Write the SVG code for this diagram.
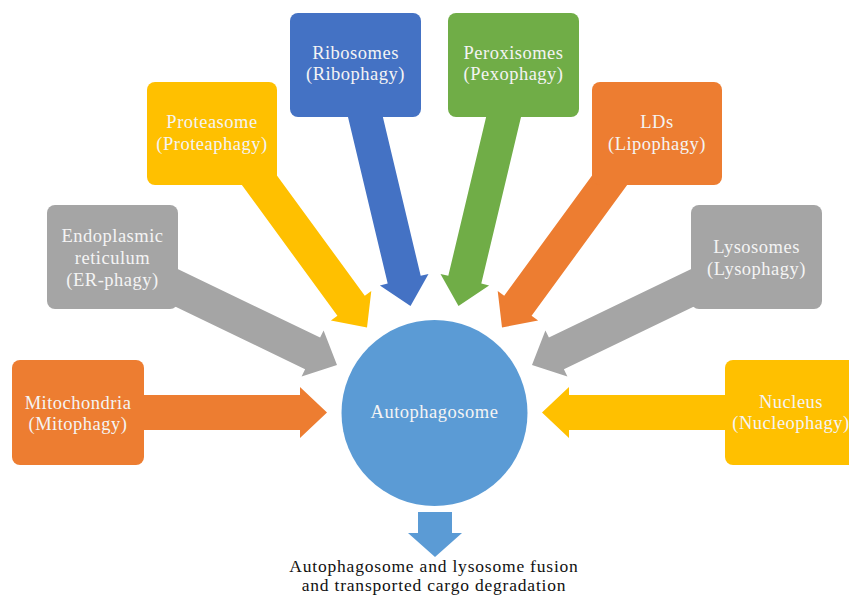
<svg xmlns="http://www.w3.org/2000/svg" width="849" height="598" viewBox="0 0 849 598">
<style>
.t{font-family:"Liberation Serif","Times New Roman",serif;font-size:18.5px;letter-spacing:0.5px;fill:#F4F4F4;text-anchor:middle}
.b{font-family:"Liberation Serif","Times New Roman",serif;font-size:17.5px;letter-spacing:0.8px;fill:#111;text-anchor:middle}
.or{fill:#ED7D31}.gr{fill:#A5A5A5}.ye{fill:#FFC000}.bl{fill:#4472C4}.gn{fill:#70AD47}.ci{fill:#5B9BD5}
</style>
<rect width="849" height="598" fill="#fff"/>
<g id="connectors">
<polygon class="or" points="130,395 300,395 300,387 327,412.5 300,438 300,430 130,430"/>
<polygon class="ye" points="739,395 569,395 569,387 542,412.5 569,438 569,430 739,430"/>
<polygon class="gr" points="105,272.8 305.1,369.2 301.6,376.4 337,365 323.6,330.4 320.1,337.6 120,241.2"/>
<polygon class="gr" points="764,272.8 563.9,369.2 567.4,376.4 532,365 545.4,330.4 548.9,337.6 749,241.2"/>
<polygon class="ye" points="230.9,170 337.4,315.7 330.9,320.5 367,327.5 371.3,291 364.8,295.7 258.3,150"/>
<polygon class="or" points="638.1,170 531.6,315.7 538.1,320.5 502,327.5 497.7,291 504.2,295.7 610.7,150"/>
<polygon class="bl" points="342.5,93.9 387.7,283.6 379.9,285.5 410.5,306 428.5,273.9 420.7,275.8 375.5,86.1"/>
<polygon class="gn" points="526.5,93.9 481.3,283.6 489.1,285.5 458.5,306 440.5,273.9 448.3,275.8 493.5,86.1"/>
<polygon class="ci" points="418,512 452,512 452,533 462,533 435,557 408,533 418,533"/>
</g>
<g id="mitochondria">
<rect class="or" x="12" y="360" width="132" height="105" rx="8"/>
<text class="t" x="78" y="409">Mitochondria</text>
<text class="t" x="78" y="430">(Mitophagy)</text>
</g>
<g id="er">
<rect class="gr" x="47" y="205" width="131" height="104" rx="8"/>
<text class="t" x="112.5" y="242">Endoplasmic</text>
<text class="t" x="112.5" y="264">reticulum</text>
<text class="t" x="112.5" y="285.5">(ER-phagy)</text>
</g>
<g id="proteasome">
<rect class="ye" x="147" y="82" width="130" height="103" rx="8"/>
<text class="t" x="212" y="128">Proteasome</text>
<text class="t" x="212" y="150">(Proteaphagy)</text>
</g>
<g id="ribosomes">
<rect class="bl" x="290" y="13" width="131" height="104" rx="8"/>
<text class="t" x="355.5" y="59">Ribosomes</text>
<text class="t" x="355.5" y="80">(Ribophagy)</text>
</g>
<g id="peroxisomes">
<rect class="gn" x="448" y="13" width="131" height="104" rx="8"/>
<text class="t" x="513.5" y="59">Peroxisomes</text>
<text class="t" x="513.5" y="80">(Pexophagy)</text>
</g>
<g id="lds">
<rect class="or" x="592" y="82" width="130" height="103" rx="8"/>
<text class="t" x="657" y="128">LDs</text>
<text class="t" x="657" y="150">(Lipophagy)</text>
</g>
<g id="lysosomes">
<rect class="gr" x="691" y="205" width="131" height="104" rx="8"/>
<text class="t" x="756.5" y="253">Lysosomes</text>
<text class="t" x="756.5" y="275">(Lysophagy)</text>
</g>
<g id="nucleus">
<rect class="ye" x="725" y="360" width="132" height="105" rx="8"/>
<text class="t" x="791" y="408">Nucleus</text>
<text class="t" x="791" y="429">(Nucleophagy)</text>
</g>
<g id="autophagosome">
<circle class="ci" cx="434.5" cy="413" r="93"/>
<text class="t" x="434.5" y="418">Autophagosome</text>
</g>
<g id="result">
<text class="b" x="434" y="572">Autophagosome and lysosome fusion</text>
<text class="b" x="434" y="591">and transported cargo degradation</text>
</g>
</svg>
